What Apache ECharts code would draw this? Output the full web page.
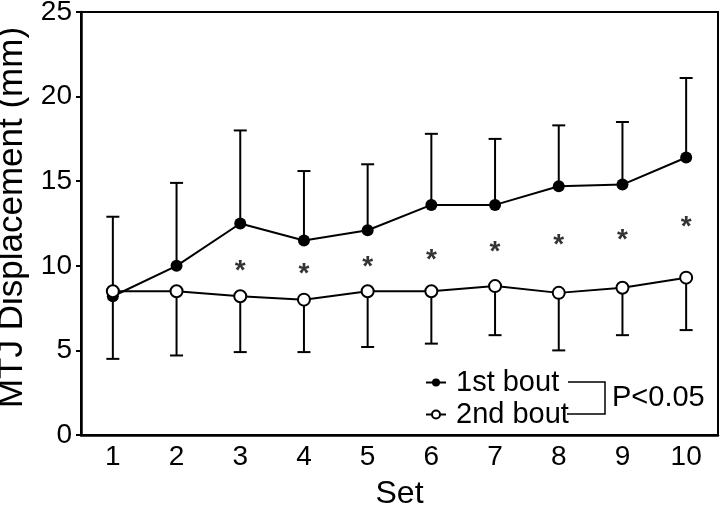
<!DOCTYPE html>
<html>
<head>
<meta charset="utf-8">
<script src="https://cdn.jsdelivr.net/npm/echarts@6/dist/echarts.min.js"></script>
<style>
  html, body { margin: 0; padding: 0; background: #fff; }
  #chart { width: 720px; height: 506px; }
</style>
</head>
<body>
<div id="chart"></div>
<script>
// 数据
const sets = ['1', '2', '3', '4', '5', '6', '7', '8', '9', '10']
const bout1Mean = [8.2, 10.0, 12.5, 11.5, 12.1, 13.6, 13.6, 14.7, 14.8, 16.4]
const bout1Upper = [12.9, 14.9, 18.0, 15.6, 16.0, 17.8, 17.5, 18.3, 18.5, 21.1]
const bout2Mean = [8.5, 8.5, 8.2, 8.0, 8.5, 8.5, 8.8, 8.4, 8.7, 9.3]
const bout2Lower = [4.5, 4.7, 4.9, 4.9, 5.2, 5.4, 5.9, 5.0, 5.9, 6.2]
// 星号位置
const starSets = ['3', '4', '5', '6', '7', '8', '9', '10']
const starValues = [10.0, 9.8, 10.2, 10.6, 11.1, 11.5, 11.8, 12.6]
const yTicks = [0, 5, 10, 15, 20, 25]

const FONT = 'Liberation Sans, Arial, sans-serif'

const chart = echarts.init(document.getElementById('chart'))

// 误差线
const errorBar = (means, ends, z) => ({
  type: 'custom',
  z,
  silent: true,
  data: means.map((m, i) => [i, m, ends[i]]),
  renderItem: (params, api) => {
    const p0 = api.coord([api.value(0), api.value(1)])
    const p1 = api.coord([api.value(0), api.value(2)])
    const half = 6.5
    const style = { stroke: '#000', lineWidth: 2 }
    return {
      type: 'group',
      children: [
        { type: 'line', shape: { x1: p0[0], y1: p0[1], x2: p1[0], y2: p1[1] }, style },
        { type: 'line', shape: { x1: p1[0] - half, y1: p1[1], x2: p1[0] + half, y2: p1[1] }, style }
      ]
    }
  }
})

const option = {
  animation: false,
  grid: {
    left: 81,
    right: 2,
    top: 12,
    bottom: 71,
    outerBoundsMode: 'none',
    containLabel: false,
    show: true,
    borderColor: '#000',
    borderWidth: 2
  },
  legend: {
    data: ['1st bout', '2nd bout'],
    orient: 'vertical',
    left: 425,
    top: 367,
    padding: 0,
    itemWidth: 20,
    itemHeight: 10,
    itemGap: 1,
    selectedMode: false,
    textStyle: { fontSize: 29, color: '#000', fontFamily: FONT, lineHeight: 31, padding: [0, 0, 0, 5] }
  },
  xAxis: [
    {
      type: 'category',
      data: sets,
      position: 'bottom',
      boundaryGap: true,
      name: 'Set',
      nameLocation: 'middle',
      nameGap: 43,
      nameTextStyle: { fontSize: 32, color: '#000', fontFamily: FONT },
      axisLine: { lineStyle: { color: '#000', width: 2.5 } },
      axisTick: { alignWithLabel: true, length: 5, lineStyle: { color: '#000', width: 2 } },
      axisLabel: { fontSize: 28, color: '#000', fontFamily: FONT, margin: 8 },
      splitLine: { show: false }
    },
    {
      // 半格小刻度
      type: 'category',
      data: sets,
      position: 'bottom',
      boundaryGap: true,
      axisLine: { show: false },
      axisTick: { length: 2, lineStyle: { color: '#000', width: 1.5 } },
      axisLabel: { show: false },
      splitLine: { show: false }
    }
  ],
  yAxis: {
    type: 'value',
    min: yTicks[0],
    max: yTicks[yTicks.length - 1],
    interval: 5,
    name: 'MTJ Displacement (mm)',
    nameLocation: 'middle',
    nameGap: 51,
    nameTextStyle: { fontSize: 35, color: '#000', fontFamily: FONT, padding: [0, 0, 0, 12] },
    axisLine: { show: true, lineStyle: { color: '#000', width: 2.5 } },
    axisTick: { show: true, length: 5, lineStyle: { color: '#000', width: 2 } },
    axisLabel: { fontSize: 28, color: '#000', fontFamily: FONT, margin: 9 },
    splitLine: { show: false }
  },
  series: [
    errorBar(bout1Mean, bout1Upper, 2),
    {
      name: '1st bout',
      type: 'line',
      z: 3,
      data: bout1Mean,
      symbol: 'circle',
      symbolSize: 12,
      lineStyle: { color: '#000', width: 2 },
      itemStyle: { color: '#000' }
    },
    errorBar(bout2Mean, bout2Lower, 4),
    {
      name: '2nd bout',
      type: 'line',
      z: 5,
      data: bout2Mean,
      symbol: 'circle',
      symbolSize: 12,
      lineStyle: { color: '#000', width: 2 },
      itemStyle: { color: '#fff', borderColor: '#000', borderWidth: 2 }
    },
    {
      // 显著性星号
      type: 'scatter',
      z: 6,
      silent: true,
      symbolSize: 1,
      itemStyle: { color: 'rgba(0,0,0,0)' },
      data: starSets.map((s, i) => [s, starValues[i]]),
      label: {
        show: true,
        position: 'inside',
        formatter: '*',
        fontSize: 28,
        fontWeight: 'bold',
        color: '#000',
        fontFamily: FONT,
        offset: [0, 5]
      }
    }
  ],
  graphic: [
    {
      type: 'polyline',
      shape: { points: [[568, 382], [605, 382], [605, 414], [567, 414]] },
      style: { stroke: '#000', lineWidth: 1.5, fill: null }
    },
    {
      type: 'text',
      left: 612,
      top: 383,
      style: { text: 'P<0.05', fontSize: 29, fill: '#000', fontFamily: FONT }
    }
  ]
}

chart.setOption(option)
</script>
</body>
</html>
